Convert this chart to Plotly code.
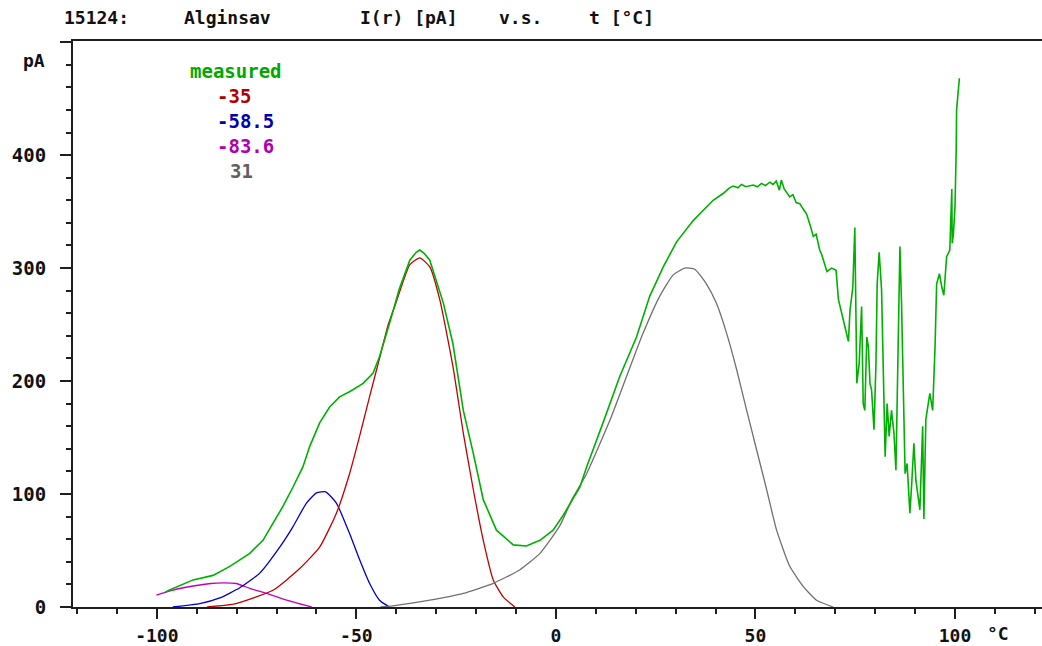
import plotly.graph_objects as go

# ---------------- data ----------------
meas_x = [-97.9, -96.8, -90.9, -85.9, -81.7, -79.2, -76.7, -73.4, -70.8, -68.4, -65.9, -63.4, -61.7,
          -59.2, -56.7, -54.2, -51.7, -48.3, -45.8, -44.2, -41.7, -39.2, -36.6, -35.0, -34.1, -33.0,
          -31.6, -28.2, -25.8, -23.2, -20.7, -18.2, -14.9, -10.7, -7.4, -4.0, -0.7, 1.8, 6.0, 7.7,
          11.8, 16.0, 20.2, 23.5, 26.9, 30.2, 34.4, 39.4, 41.9, 43.5, 44.4, 45.6, 46.5, 47.6, 49.4,
          50.5, 51.5, 52.5, 53.6, 54.4, 55.2, 56.0, 56.5, 57.2, 58.6, 59.4, 60.2, 61.1, 62.0, 62.8,
          63.7, 64.5, 65.2, 66.1, 66.6, 67.9, 69.1, 70.2, 70.8, 71.6, 72.4, 73.3, 73.7, 74.4, 74.9,
          75.4, 76.0, 76.6, 77.0, 77.4, 77.9, 78.3, 78.7, 79.1, 79.7, 80.2, 80.5, 81.0, 81.6, 82.0,
          82.5, 83.0, 83.5, 84.1, 84.7, 85.2, 85.6, 86.2, 86.6, 87.0, 87.5, 88.0, 88.7, 89.2, 89.7,
          90.2, 90.8, 91.2, 91.7, 91.9, 92.2, 92.7, 93.3, 93.7, 94.4, 95.0, 95.4, 96.1, 96.7, 97.2,
          97.9, 98.7, 99.2, 99.3, 99.6, 100.0, 100.3, 100.4, 101.1]
meas_y = [13, 15, 24, 28, 36, 42, 47.5, 59, 74, 89, 106, 124, 142,
          163, 177, 186, 190.5, 198, 207, 221.5, 251, 282, 307, 314, 316, 313,
          307, 269, 233, 174, 136, 95, 68, 55, 54, 59, 68, 81, 106, 124,
          163, 204, 239, 275, 301, 323, 342, 360, 366, 371, 372.6, 371, 374, 372, 373.5,
          372, 375, 373, 376, 374, 377, 369, 378, 370, 363, 365, 358, 357, 352, 348,
          338, 328, 330, 316, 312, 297, 300, 298, 272, 260, 250, 235, 263, 283, 336,
          198, 216, 266, 180, 174, 239, 230, 198, 192, 157, 216, 286, 314, 281, 198,
          133, 180, 151, 174, 154, 121, 198, 319, 269, 210, 118, 127, 83, 112, 145,
          112, 98, 86, 139, 160, 78, 166, 180, 189, 174, 230, 286, 295, 283, 276,
          310, 316, 370, 322, 330, 354, 404, 440, 468]

p35_x = [-87.4, -80.1, -70.8, -64.2, -59.2, -55.0, -51.7, -49.2, -46.7, -44.2, -42.0, -40.0,
         -36.6, -34.1, -31.6, -29.1, -25.8, -23.2, -20.7, -18.2, -15.7, -13.2, -10.3]
p35_y = [0, 3, 15, 34, 53, 83, 118, 151, 186, 220, 250, 270,
         303, 309, 301, 272, 213, 154, 104, 59, 24, 9, 0]

p585_x = [-96.0, -89.2, -84.2, -79.2, -74.2, -69.2, -65.9, -62.5, -60.0, -57.7, -55.0, -51.7,
          -49.2, -46.7, -44.2, -41.7]
p585_y = [0, 3, 8, 17, 30, 53, 71, 92, 101, 102, 92, 65, 42, 21, 6, 0]

p836_x = [-100.1, -95.9, -90.9, -86.5, -83.3, -80.1, -76.7, -72.5, -67.5, -61.2]
p836_y = [10.6, 15, 18.6, 20.8, 21.3, 20.8, 16.5, 12, 6, 0]

p31_x = [-44.0, -40.8, -31.6, -23.2, -15.7, -9.0, -4.0, 1.0, 4.0, 7.7, 13.5, 17.7, 21.8, 26.0,
         29.4, 32.3, 34.8, 37.7, 40.2, 42.8, 45.3, 47.8, 50.3, 52.8, 55.3, 58.6, 62.0, 65.3, 69.5]
p31_y = [0, 1, 6, 12, 21, 33, 47.5, 72, 95, 118, 165, 204, 242, 275,
         294, 300, 299, 286, 269, 242, 210, 174, 139, 104, 68, 36, 18, 6, 0]

legend_labels = ["measured", "-35", "-58.5", "-83.6", "31"]
x_tick_vals = [-100, -50, 0, 50, 100]
x_tick_text = ["-100", "-50", "0", "50", "100"]
y_tick_vals = [0, 100, 200, 300, 400, 500]
y_tick_text = ["0", "100", "200", "300", "400", ""]
title_parts = ["15124:", "Alginsav", "I(r) [pA]", "v.s.", "t [°C]"]

# ---------------- styling ----------------
W, H = 1042, 646
L, R, T, B = 73, 0, 41, 39
PW, PH = W - L - R, H - T - B
MONO = "DejaVu Sans Mono"
AX = "#1e1e1e"

def px(xp):
    return (xp - L) / PW

def py(yp):
    return (H - B - yp) / PH

fig = go.Figure()
fits = [
    (p836_x, p836_y, "#c000c0"),
    (p585_x, p585_y, "#0000c8"),
    (p35_x, p35_y, "#c00000"),
    (p31_x, p31_y, "#707070"),
]
for xs, ys, col in fits:
    fig.add_trace(go.Scatter(x=xs, y=ys, mode="lines",
                             line=dict(color=col, width=1.3, shape="spline", smoothing=0.5),
                             showlegend=False, hoverinfo="skip"))
fig.add_trace(go.Scatter(x=meas_x, y=meas_y, mode="lines",
                         line=dict(color="#00b000", width=1.6),
                         showlegend=False, hoverinfo="skip"))

annotations = []
title_px = [62, 182, 358, 497, 587]
for t, xp in zip(title_parts, title_px):
    annotations.append(dict(text=t, x=px(xp), y=py(18), xref="paper", yref="paper",
                            xanchor="left", yanchor="middle", showarrow=False,
                            font=dict(family=MONO, size=18, color="#111", weight="bold")))

leg_cols = ["#00a800", "#b00000", "#0000b0", "#b000b0", "#606060"]
leg_px = [188, 215, 215, 215, 228]
leg_py = [71, 96, 121, 146, 171]
for t, c, xp, yp in zip(legend_labels, leg_cols, leg_px, leg_py):
    annotations.append(dict(text=t, x=px(xp), y=py(yp), xref="paper", yref="paper",
                            xanchor="left", yanchor="middle", showarrow=False,
                            font=dict(family=MONO, size=19, color=c, weight="bold")))

annotations.append(dict(text="pA", x=px(47), y=py(60), xref="paper", yref="paper",
                        xanchor="right", yanchor="middle", showarrow=False,
                        font=dict(family=MONO, size=18, color="#111", weight="bold")))
annotations.append(dict(text="°C", x=px(998), y=py(634), xref="paper", yref="paper",
                        xanchor="center", yanchor="middle", showarrow=False,
                        font=dict(family=MONO, size=18, color="#111", weight="bold")))

tickfont = dict(family=MONO, size=18, color="#111", weight="bold")
fig.update_layout(
    width=W, height=H,
    margin=dict(l=L, r=R, t=T, b=B, pad=0, autoexpand=False),
    paper_bgcolor="white", plot_bgcolor="white",
    showlegend=False,
    annotations=annotations,
    xaxis=dict(range=[-121.0, 121.8], showgrid=False, zeroline=False, automargin=False,
               showline=True, linecolor=AX, linewidth=2, mirror=True,
               ticks="outside", tickvals=x_tick_vals, ticktext=x_tick_text,
               ticklen=10, tickwidth=2, tickcolor=AX, tickfont=tickfont,
               ticklabelstandoff=1,
               minor=dict(tickvals=[v for v in range(-120, 121, 10) if v % 50 != 0],
                          ticks="outside", ticklen=5, tickwidth=2, tickcolor=AX)),
    yaxis=dict(range=[0, 501], showgrid=False, zeroline=False, automargin=False,
               showline=True, linecolor=AX, linewidth=2, mirror=False,
               ticks="outside", tickvals=y_tick_vals, ticktext=y_tick_text,
               ticklen=11, tickwidth=2, tickcolor=AX, tickfont=dict(tickfont, size=19),
               ticklabelstandoff=10,
               minor=dict(tickvals=[v for v in range(0, 501, 20) if v % 100 != 0],
                          ticks="outside", ticklen=5, tickwidth=2, tickcolor=AX)),
)

fig.write_html("out.html", config={"displayModeBar": False},
               post_script="document.body.style.margin='0';document.body.style.overflow='hidden';")
